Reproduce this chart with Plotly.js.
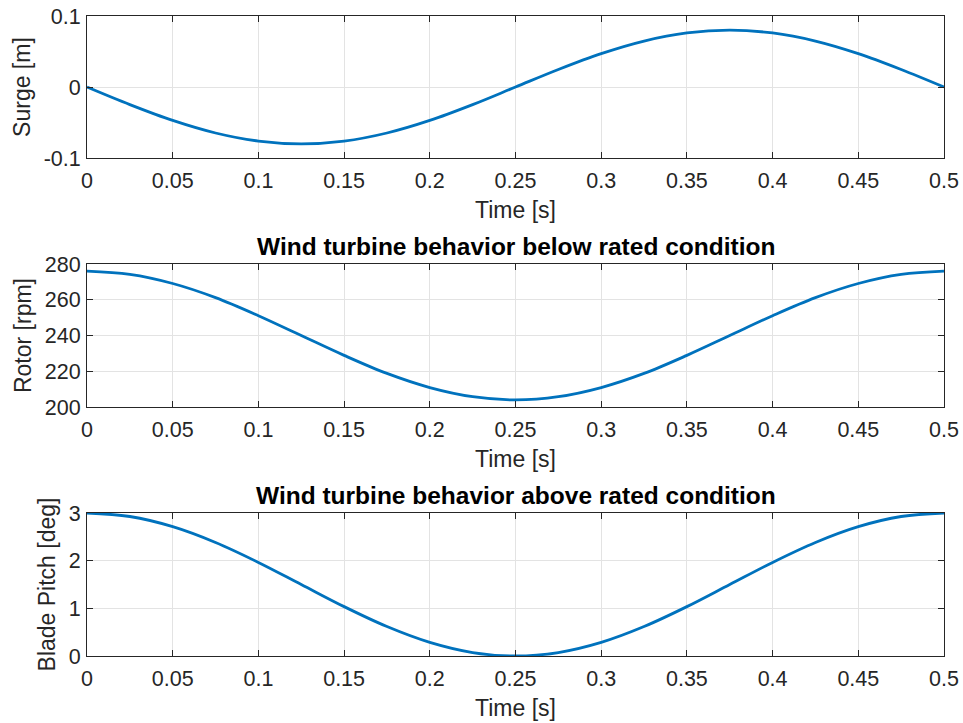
<!DOCTYPE html>
<html><head><meta charset="utf-8">
<script src="https://cdn.plot.ly/plotly-3.0.1.min.js"></script>
<style>body{margin:0;background:#fff}#c{width:963px;height:723px}</style>
</head><body><div id="c"></div>
<script>
// Data
const time = [0,0.025,0.05,0.075,0.1,0.125,0.15,0.175,0.2,0.225,0.25,0.275,0.3,0.325,0.35,0.375,0.4,0.425,0.45,0.475,0.5];
const surge = [0,-0.0247,-0.047,-0.0647,-0.0761,-0.08,-0.0761,-0.0647,-0.047,-0.0247,0,0.0247,0.047,0.0647,0.0761,0.08,0.0761,0.0647,0.047,0.0247,0];
const rotor = [276,274.2,269.1,261.2,251.1,240,228.9,218.8,210.9,205.8,204,205.8,210.9,218.8,228.9,240,251.1,261.2,269.1,274.2,276];
const pitch = [3,2.927,2.714,2.382,1.964,1.5,1.036,0.618,0.286,0.073,0,0.073,0.286,0.618,1.036,1.5,1.964,2.382,2.714,2.927,3];
const xTicks = [0,0.05,0.1,0.15,0.2,0.25,0.3,0.35,0.4,0.45,0.5];
const xTickText = ["0","0.05","0.1","0.15","0.2","0.25","0.3","0.35","0.4","0.45","0.5"];
const surgeTicks = [-0.1,0,0.1], surgeText = ["-0.1","0","0.1"];
const rotorTicks = [200,220,240,260,280];
const pitchTicks = [0,1,2,3];
const titles = ["Wind turbine behavior below rated condition","Wind turbine behavior above rated condition"];

const lineStyle = {color:'#0072BD', width:2.8, shape:'spline', smoothing:1};
const traces = [
  {x:time, y:surge, xaxis:'x', yaxis:'y', mode:'lines', line:lineStyle, hoverinfo:'none'},
  {x:time, y:rotor, xaxis:'x2', yaxis:'y2', mode:'lines', line:lineStyle, hoverinfo:'none'},
  {x:time, y:pitch, xaxis:'x3', yaxis:'y3', mode:'lines', line:lineStyle, hoverinfo:'none'}
];
const FAM = 'Liberation Sans, Arial, sans-serif';
const tickFnt = {family:FAM, size:21.5, color:'#262626'};
const labFnt = {family:FAM, size:23, color:'#262626'};
function xa(anchor){
  return {anchor:anchor, domain:[0,1], range:[0,0.5], tickvals:xTicks, ticktext:xTickText,
    ticks:'inside', ticklen:6, tickcolor:'#262626', tickwidth:1, showline:true, linecolor:'#262626', linewidth:1,
    mirror:'ticks', showgrid:true, gridcolor:'#e3e3e3', gridwidth:1, zeroline:false, tickfont:tickFnt,
    ticklabelstandoff:3,
    title:{text:'Time [s]', font:labFnt, standoff:10}};
}
function ya(anchor, dom, rng, tv, tt, ttl){
  const o = {anchor:anchor, domain:dom, range:rng, tickvals:tv,
    ticks:'inside', ticklen:6, tickcolor:'#262626', tickwidth:1, showline:true, linecolor:'#262626', linewidth:1,
    mirror:'ticks', showgrid:true, gridcolor:'#e3e3e3', gridwidth:1, zeroline:false, tickfont:tickFnt,
    ticklabelstandoff:1,
    title:{text:ttl, font:labFnt, standoff:6}};
  if (tt) o.ticktext = tt;
  return o;
}
const titleFnt = {family:FAM, size:24.5, color:'#000'};
const layout = {
  width:963, height:723, margin:{l:87, r:19, t:16, b:67},
  paper_bgcolor:'#fff', plot_bgcolor:'#fff', showlegend:false,
  xaxis: xa('y'), xaxis2: xa('y2'), xaxis3: xa('y3'),
  yaxis: ya('x', [0.778,1], [-0.1,0.1], surgeTicks, surgeText, 'Surge [m]'),
  yaxis2: ya('x2', [0.389,0.6125], [200,280], rotorTicks, null, 'Rotor [rpm]'),
  yaxis3: ya('x3', [0,0.2234], [0,3], pitchTicks, null, 'Blade Pitch [deg]'),
  annotations: [
    {text:'<b>'+titles[0]+'</b>', xref:'paper', yref:'paper', x:0.5, y:0.6125, yshift:2, xanchor:'center', yanchor:'bottom', showarrow:false, font:titleFnt},
    {text:'<b>'+titles[1]+'</b>', xref:'paper', yref:'paper', x:0.5, y:0.2234, yshift:2, xanchor:'center', yanchor:'bottom', showarrow:false, font:titleFnt}
  ]
};
Plotly.newPlot('c', traces, layout, {staticPlot:true, displayModeBar:false});
</script></body></html>
